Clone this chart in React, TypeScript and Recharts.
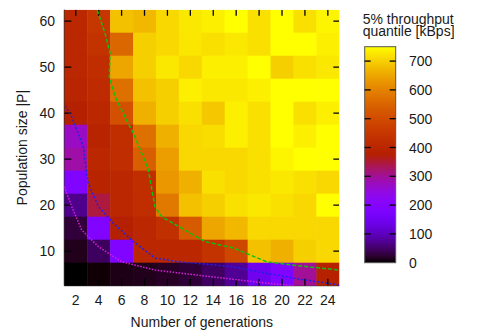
import { ComposedChart, Scatter, Line, XAxis, YAxis } from 'recharts';

// x: number of generations, y: population size |P|
const generations = [2, 4, 6, 8, 10, 12, 14, 16, 18, 20, 22, 24];
const populationSizes = [60, 55, 50, 45, 40, 35, 30, 25, 20, 15, 10, 5];

// 5% throughput quantile [kBps], one row per population size (top row = 60)
const quantileRows = [
  [405, 450, 683, 673, 710, 727, 735, 750, 718, 750, 718, 740],
  [400, 440, 555, 700, 710, 725, 718, 727, 718, 750, 750, 735],
  [400, 420, 650, 700, 727, 710, 735, 735, 750, 700, 718, 727],
  [395, 415, 570, 683, 700, 735, 727, 727, 735, 750, 750, 750],
  [375, 405, 510, 663, 700, 718, 690, 735, 718, 750, 718, 735],
  [270, 390, 425, 570, 663, 710, 715, 735, 718, 750, 735, 750],
  [290, 400, 420, 540, 640, 710, 710, 710, 718, 740, 750, 750],
  [190, 390, 400, 425, 630, 663, 718, 710, 718, 727, 718, 710],
  [70, 345, 400, 420, 585, 683, 700, 718, 727, 718, 710, 750],
  [28, 190, 375, 400, 430, 530, 650, 673, 710, 710, 710, 710],
  [12, 45, 190, 400, 405, 405, 440, 490, 683, 663, 700, 710],
  [0, 3, 10, 12, 18, 26, 47, 75, 145, 190, 300, 380],
];

const greenCurve = [
  { x: 3.88, y: 62.4 }, { x: 4.55, y: 57.4 }, { x: 4.99, y: 53.1 }, { x: 4.93, y: 47.9 },
  { x: 5.43, y: 43.6 }, { x: 6.3, y: 39.2 }, { x: 7.17, y: 34.9 }, { x: 8.33, y: 27.7 },
  { x: 8.91, y: 19.7 }, { x: 9.5, y: 17.5 }, { x: 11.24, y: 15.0 }, { x: 13.28, y: 12.1 },
  { x: 15.75, y: 10.7 }, { x: 18.66, y: 7.7 }, { x: 21.6, y: 6.8 }, { x: 25, y: 5.9 },
];
const blueCurve = [
  { x: 1.06, y: 41.6 }, { x: 1.65, y: 39.2 }, { x: 2.66, y: 32.7 }, { x: 2.95, y: 26.9 },
  { x: 3.09, y: 24.8 }, { x: 3.97, y: 19.7 }, { x: 5.28, y: 16.1 }, { x: 6.88, y: 12.4 },
  { x: 8.91, y: 8.5 }, { x: 10.95, y: 7.7 }, { x: 13.28, y: 7.2 }, { x: 15.75, y: 6.6 },
  { x: 18.66, y: 5.2 }, { x: 21.6, y: 3.9 }, { x: 25, y: 2.65 },
];
const magentaCurve = [
  { x: 1.0, y: 24.0 }, { x: 1.65, y: 19.7 }, { x: 2.52, y: 14.6 }, { x: 3.97, y: 11.0 },
  { x: 6.0, y: 7.7 }, { x: 8.91, y: 5.9 }, { x: 13.28, y: 4.6 }, { x: 15.75, y: 3.9 },
  { x: 19.24, y: 2.9 }, { x: 21, y: 2.5 },
];

const xTicks = generations;
const yTicks = [10, 20, 30, 40, 50, 60];
const colorTicks = [0, 100, 200, 300, 400, 500, 600, 700];
const CB_MAX = 750;
const X_DOMAIN = [1, 25];
const Y_DOMAIN = [2.5, 62.5];

const W = 469;
const H = 326;
const PLOT = { left: 56.3, top: 1.7, width: 275, height: 276 };
const CELL_W = PLOT.width / generations.length;
const CELL_H = PLOT.height / populationSizes.length;
const TICK = 7;
const TEXT = '#1a1a1a';

// gnuplot default palette (rgbformulae 7,5,15)
function palette(v: number) {
  const t = Math.min(1, Math.max(0, v / CB_MAX));
  const r = Math.sqrt(t);
  const g = t * t * t;
  const b = Math.max(0, Math.sin(2 * Math.PI * t));
  return `rgb(${Math.round(r * 255)},${Math.round(g * 255)},${Math.round(b * 255)})`;
}

const cells = populationSizes.flatMap((p, i) =>
  generations.map((g, j) => ({ x: g, y: p, v: quantileRows[i][j] }))
);

// tick mark anchors on the four borders (gnuplot draws them inward, mirrored)
const bottomTickPts = xTicks.map((x) => ({ x, y: Y_DOMAIN[0] }));
const topTickPts = xTicks.map((x) => ({ x, y: Y_DOMAIN[1] }));
const leftTickPts = yTicks.map((y) => ({ x: X_DOMAIN[0], y }));
const rightTickPts = yTicks.map((y) => ({ x: X_DOMAIN[1], y }));

const CellShape = (props: any) => {
  const { cx, cy, payload } = props;
  return (
    <rect
      x={cx - CELL_W / 2}
      y={cy - CELL_H / 2}
      width={CELL_W + 0.5}
      height={CELL_H + 0.5}
      fill={palette(payload.v)}
      stroke="none"
    />
  );
};

const tickMark = (dx: number, dy: number) => (props: any) => (
  <line x1={props.cx} y1={props.cy} x2={props.cx + dx} y2={props.cy + dy} stroke="#000" strokeWidth={1.3} />
);

const BottomTick = ({ x, y, payload }: any) => (
  <text x={x} y={y + 19.3} textAnchor="middle" fontSize={14} fill={TEXT}>{payload.value}</text>
);
const LeftTick = ({ x, y, payload }: any) => (
  <text x={x - 9.3} y={y + 5} textAnchor="end" fontSize={14} fill={TEXT}>{payload.value}</text>
);

function ColorBar() {
  const x = 356.7;
  const y = 38.7;
  const w = 31;
  const h = 216;
  const stops = Array.from({ length: 41 }, (_, i) => i / 40);
  return (
    <svg width={W} height={H} style={{ position: 'absolute', left: 0, top: 0, pointerEvents: 'none' }}>
      <defs>
        <linearGradient id="cb" x1="0" y1="1" x2="0" y2="0">
          {stops.map((s) => (
            <stop key={s} offset={s} stopColor={palette(s * CB_MAX)} />
          ))}
        </linearGradient>
      </defs>
      <text x={354.7} y={16} fontSize={14} fill={TEXT}>5% throughput</text>
      <text x={354.7} y={28} fontSize={14} fill={TEXT}>quantile [kBps]</text>
      <rect x={x} y={y} width={w} height={h} fill="url(#cb)" stroke="#555" strokeWidth={1} />
      {colorTicks.map((t) => {
        const ty = y + h - (t / CB_MAX) * h;
        return (
          <g key={t}>
            {t > 0 && <line x1={x} x2={x + 6} y1={ty} y2={ty} stroke="#000" strokeWidth={1.3} />}
            {t > 0 && <line x1={x + w - 6} x2={x + w} y1={ty} y2={ty} stroke="#000" strokeWidth={1.3} />}
            <text x={401} y={ty + 5} fontSize={14} fill={TEXT}>{t}</text>
          </g>
        );
      })}
    </svg>
  );
}

export default function App() {
  return (
    <div style={{ position: 'relative', width: W, height: H, fontFamily: '"Liberation Sans", Arial, sans-serif' }}>
      <ComposedChart
        width={W}
        height={H}
        margin={{ top: PLOT.top, right: W - PLOT.left - PLOT.width, left: 0, bottom: 0 }}
      >
        <Scatter data={cells} dataKey="y" shape={CellShape} isAnimationActive={false} />
        <Scatter data={bottomTickPts} dataKey="y" shape={tickMark(0, -TICK)} isAnimationActive={false} />
        <Scatter data={topTickPts} dataKey="y" shape={tickMark(0, TICK - 1)} isAnimationActive={false} />
        <Scatter data={leftTickPts} dataKey="y" shape={tickMark(TICK, 0)} isAnimationActive={false} />
        <Scatter data={rightTickPts} dataKey="y" shape={tickMark(-(TICK - 1), 0)} isAnimationActive={false} />
        <Line data={greenCurve} dataKey="y" type="linear" stroke="#10c010" strokeWidth={1.5}
          strokeDasharray="4 2" dot={false} isAnimationActive={false} zIndex={700} />
        <Line data={blueCurve} dataKey="y" type="linear" stroke="#2020e8" strokeWidth={1.5}
          strokeDasharray="2 2" dot={false} isAnimationActive={false} zIndex={700} />
        <Line data={magentaCurve} dataKey="y" type="linear" stroke="#d820d8" strokeWidth={1.5}
          strokeDasharray="1.5 1.5" dot={false} isAnimationActive={false} zIndex={700} />
        <XAxis
          dataKey="x"
          type="number"
          domain={X_DOMAIN}
          ticks={xTicks}
          interval={0}
          height={H - PLOT.top - PLOT.height}
          tickSize={0}
          tickMargin={0}
          tickLine={false}
          tick={BottomTick}
          stroke="#000"
          allowDataOverflow
          label={() => (
            <text x={PLOT.left + PLOT.width / 2} y={318.7} textAnchor="middle" fontSize={14} fill={TEXT}>
              Number of generations
            </text>
          )}
        />
        <YAxis
          type="number"
          domain={Y_DOMAIN}
          ticks={yTicks}
          interval={0}
          width={PLOT.left}
          tickSize={0}
          tickMargin={0}
          tickLine={false}
          tick={LeftTick}
          stroke="#000"
          allowDataOverflow
          label={() => (
            <text x={19} y={PLOT.top + PLOT.height / 2} textAnchor="middle" fontSize={14} fill={TEXT}
              transform={`rotate(-90 19 ${PLOT.top + PLOT.height / 2})`}>
              Population size |P|
            </text>
          )}
        />
      </ComposedChart>
      <ColorBar />
    </div>
  );
}
